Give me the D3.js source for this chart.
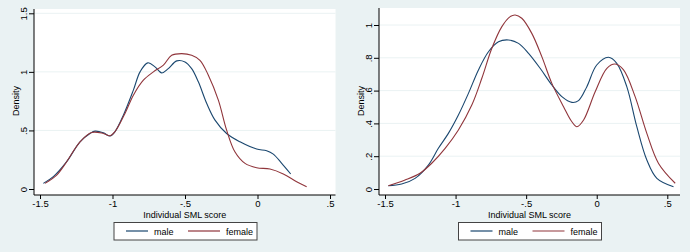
<!DOCTYPE html>
<html>
<head>
<meta charset="utf-8">
<script src="https://cdn.jsdelivr.net/npm/d3@7"></script>
<style>
  body { margin: 0; background: #eaf2f3; }
  svg { display: block; font-family: "Liberation Sans", Arial, sans-serif; }
</style>
</head>
<body>
<div id="root"></div>
<script>
// density curves, [score, density]
var leftMale = [[-1.477,0.048],[-1.408,0.105],[-1.316,0.233],[-1.224,0.403],[-1.155,0.474],[-1.12,0.494],[-1.063,0.48],[-1.017,0.452],[-0.983,0.489],[-0.925,0.63],[-0.856,0.844],[-0.81,1.0],[-0.757,1.077],[-0.707,1.043],[-0.661,0.991],[-0.615,1.028],[-0.557,1.094],[-0.5,1.085],[-0.454,1.028],[-0.408,0.915],[-0.35,0.73],[-0.293,0.588],[-0.213,0.474],[-0.121,0.403],[-0.006,0.341],[0.063,0.327],[0.109,0.298],[0.167,0.219],[0.229,0.128]];
var leftFemale = [[-1.466,0.048],[-1.385,0.119],[-1.316,0.233],[-1.224,0.403],[-1.144,0.483],[-1.063,0.474],[-1.017,0.455],[-0.983,0.489],[-0.914,0.645],[-0.856,0.801],[-0.787,0.929],[-0.718,1.0],[-0.649,1.057],[-0.592,1.142],[-0.523,1.156],[-0.454,1.142],[-0.397,1.099],[-0.339,0.972],[-0.27,0.759],[-0.213,0.503],[-0.156,0.318],[-0.086,0.219],[-0.006,0.182],[0.086,0.17],[0.178,0.128],[0.27,0.0625],[0.339,0.02]];
var rightMale = [[-1.476,0.02],[-1.382,0.03],[-1.287,0.065],[-1.193,0.146],[-1.122,0.248],[-1.051,0.339],[-0.98,0.451],[-0.909,0.583],[-0.838,0.726],[-0.767,0.837],[-0.696,0.898],[-0.625,0.909],[-0.554,0.888],[-0.483,0.827],[-0.401,0.736],[-0.318,0.634],[-0.247,0.563],[-0.176,0.528],[-0.129,0.539],[-0.07,0.624],[0.0,0.756],[0.083,0.803],[0.142,0.766],[0.213,0.624],[0.284,0.38],[0.355,0.177],[0.426,0.065],[0.544,0.014]];
var rightFemale = [[-1.476,0.02],[-1.358,0.055],[-1.252,0.096],[-1.169,0.157],[-1.074,0.248],[-0.98,0.36],[-0.885,0.512],[-0.814,0.675],[-0.743,0.858],[-0.672,0.99],[-0.613,1.051],[-0.578,1.061],[-0.531,1.041],[-0.46,0.949],[-0.389,0.807],[-0.318,0.644],[-0.235,0.502],[-0.176,0.41],[-0.14,0.38],[-0.093,0.421],[-0.011,0.593],[0.072,0.736],[0.131,0.762],[0.19,0.726],[0.272,0.563],[0.355,0.339],[0.438,0.156],[0.556,0.035]];

var xTicks = [-1.5, -1, -0.5, 0, 0.5];
var xTickLabels = ['-1.5', '-1', '-.5', '0', '.5'];
var leftYTicks = [0, 0.5, 1, 1.5];
var leftYTickLabels = ['0', '.5', '1', '1.5'];
var rightYTicks = [0, 0.2, 0.4, 0.6, 0.8, 1];
var rightYTickLabels = ['0', '.2', '.4', '.6', '.8', '1'];
var seriesNames = ['male', 'female'];
var seriesColors = ['#1a476f', '#90353b'];

var svg = d3.select('#root')
  .append('svg')
    .attr('width', 690)
    .attr('height', 252);

svg.append('rect')
  .attr('width', 690)
  .attr('height', 252)
  .attr('fill', '#eaf2f3');

var drawPanel = p => {
  var xScale = d3.scaleLinear()
    .domain([-1.5, 0.5])
    .range(p.xRange);

  var yScale = d3.scaleLinear()
    .domain([0, p.yTicks[p.yTicks.length - 1]])
    .range(p.yRange);

  var g = svg.append('g');

  // white plot region
  g.append('rect')
    .attr('x', p.box[0])
    .attr('y', p.box[1])
    .attr('width', p.box[2] - p.box[0])
    .attr('height', p.box[3] - p.box[1])
    .attr('fill', '#fff');

  // grid
  g.selectAll('.grid')
    .data(p.yTicks.filter(t => t > 0))
    .enter()
    .append('line')
      .attr('x1', p.box[0])
      .attr('x2', p.box[2])
      .attr('y1', t => yScale(t))
      .attr('y2', t => yScale(t))
      .attr('stroke', '#eaf2f3')
      .attr('stroke-width', 1);

  var yAxisCall = d3.axisLeft(yScale)
    .tickValues(p.yTicks)
    .tickSize(5)
    .tickFormat((t, i) => p.yTickLabels[i]);

  var yAxis = g.append('g')
    .attr('transform', 'translate(' + p.box[0] + ', 0)')
    .call(yAxisCall);
  yAxis.select('.domain').remove();
  yAxis.selectAll('line').attr('stroke', '#000');
  yAxis.selectAll('text')
    .attr('transform', 'rotate(-90)')
    .attr('x', 0)
    .attr('y', -7)
    .attr('dy', 0)
    .attr('text-anchor', 'middle')
    .attr('font-size', '9.5px')
    .attr('fill', '#000');

  var xAxisCall = d3.axisBottom(xScale)
    .tickValues(xTicks)
    .tickSize(4)
    .tickFormat((t, i) => xTickLabels[i]);

  var xAxis = g.append('g')
    .attr('transform', 'translate(0, ' + p.box[3] + ')')
    .call(xAxisCall);
  xAxis.select('.domain').remove();
  xAxis.selectAll('line').attr('stroke', '#000');
  xAxis.selectAll('text')
    .attr('y', 5)
    .attr('font-size', '9.5px')
    .attr('fill', '#000');

  // axis lines span the whole plot region
  g.append('line')
    .attr('x1', p.box[0]).attr('x2', p.box[0])
    .attr('y1', p.box[1]).attr('y2', p.box[3])
    .attr('stroke', '#000');
  g.append('line')
    .attr('x1', p.box[0]).attr('x2', p.box[2])
    .attr('y1', p.box[3]).attr('y2', p.box[3])
    .attr('stroke', '#000');

  var line = d3.line()
    .x(d => xScale(d[0]))
    .y(d => yScale(d[1]))
    .curve(d3.curveCatmullRom);

  g.selectAll('.curve')
    .data(p.series)
    .enter()
    .append('path')
      .attr('d', line)
      .attr('fill', 'none')
      .attr('stroke', (d, i) => seriesColors[i])
      .attr('stroke-width', 1.1);

  g.append('text')
    .attr('x', (p.box[0] + p.box[2]) / 2)
    .attr('y', 217.5)
    .attr('font-size', '9px')
    .attr('text-anchor', 'middle')
    .attr('fill', '#000')
    .text('Individual SML score');

  g.append('text')
    .attr('transform', 'rotate(-90)')
    .attr('x', -101)
    .attr('y', p.box[0] - 15)
    .attr('font-size', '9px')
    .attr('text-anchor', 'middle')
    .attr('fill', '#000')
    .text('Density');

  // legend
  var lx = p.legendX;
  g.append('rect')
    .attr('x', lx)
    .attr('y', 222.5)
    .attr('width', 143)
    .attr('height', 17.5)
    .attr('fill', '#fff')
    .attr('stroke', '#444');

  var items = g.selectAll('.legend-item')
    .data(seriesNames)
    .enter()
    .append('g')
      .attr('transform', (d, i) => 'translate(' + (lx + 12 + i * 62) + ', 231)');
  items.append('line')
    .attr('x1', 0)
    .attr('x2', (d, i) => i === 0 ? 22 : 32)
    .attr('stroke', (d, i) => seriesColors[i])
    .attr('stroke-width', 1.2);
  items.append('text')
    .attr('x', (d, i) => i === 0 ? 28 : 38)
    .attr('y', 3.5)
    .attr('font-size', '9px')
    .attr('fill', '#000')
    .text(d => d);
};

drawPanel({
  box: [34, 9, 335.5, 195],
  xRange: [40, 330],
  yRange: [189, 13.3],
  yTicks: leftYTicks,
  yTickLabels: leftYTickLabels,
  series: [leftMale, leftFemale],
  legendX: 114
});

drawPanel({
  box: [379, 8, 680, 195],
  xRange: [385, 667.3],
  yRange: [189, 25],
  yTicks: rightYTicks,
  yTickLabels: rightYTickLabels,
  series: [rightMale, rightFemale],
  legendX: 458.5
});
</script>
</body>
</html>
